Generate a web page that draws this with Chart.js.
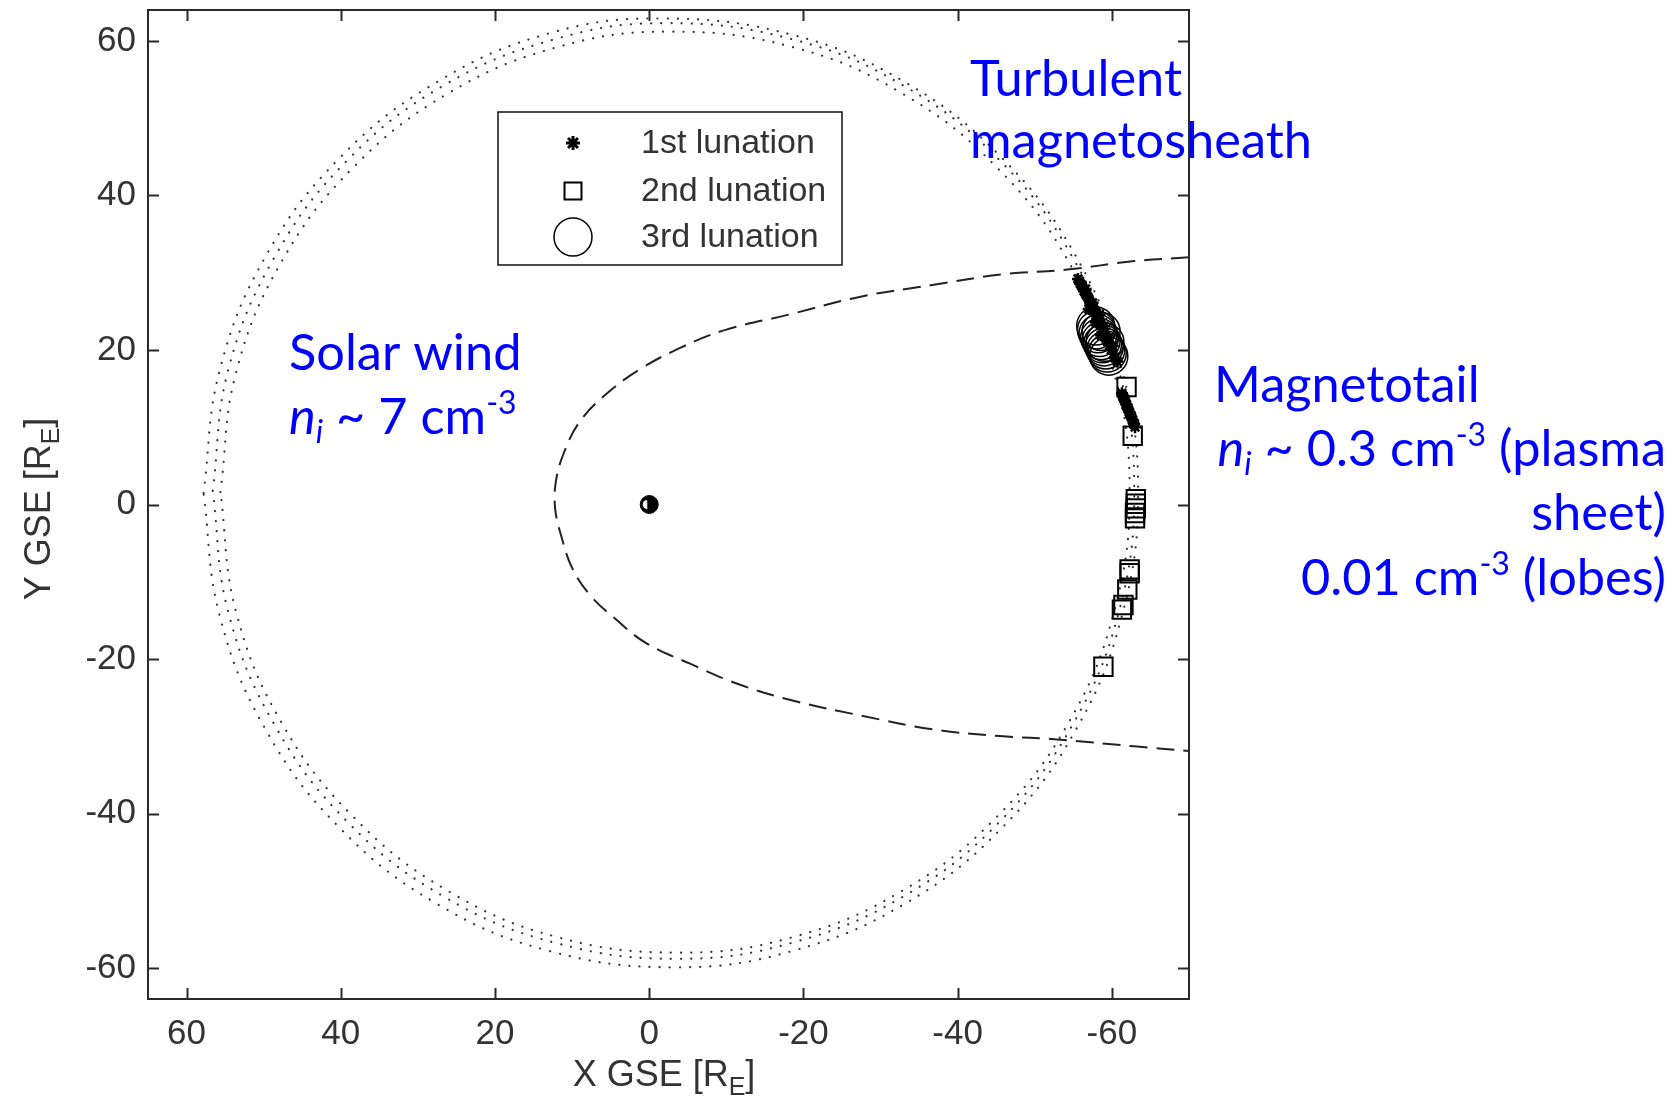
<!DOCTYPE html>
<html><head><meta charset="utf-8">
<script src="https://cdn.jsdelivr.net/npm/chart.js@4.4.1/dist/chart.umd.min.js"></script>
<style>html,body{margin:0;padding:0;background:#fff;overflow:hidden}#wrap{width:1680px;height:1105px;position:relative}</style>
</head><body><div id="wrap"><canvas id="c" width="1680" height="1105"></canvas></div>
<script>
// ---- axis ticks ----
const xTicks = [60, 40, 20, 0, -20, -40, -60];
const yTicks = [60, 40, 20, 0, -20, -40, -60];

// ---- Moon orbit traces (three lunations, dotted) ----
const orbitA = [
  {x:57.8,y:1.5},{x:55.7,y:17.4},{x:49.7,y:32.2},{x:40.1,y:44.9},{x:27.5,y:54.7},{x:12.9,y:61.0},
  {x:-1.5,y:62.9},{x:-18.5,y:60.8},{x:-33.1,y:54.7},{x:-45.7,y:44.9},{x:-55.3,y:32.2},{x:-61.3,y:17.4},
  {x:-63.4,y:1.5},{x:-61.3,y:-14.4},{x:-55.3,y:-29.2},{x:-45.7,y:-41.9},{x:-33.1,y:-51.7},{x:-18.5,y:-57.8},
  {x:-3.5,y:-59.9},{x:12.9,y:-57.8},{x:27.5,y:-51.7},{x:40.1,y:-41.9},{x:49.7,y:-29.2},{x:55.7,y:-14.4},{x:57.8,y:1.5}
];
const orbitB = [
  {x:56.6,y:1.8},{x:54.6,y:17.4},{x:48.6,y:32.0},{x:39.1,y:44.6},{x:26.7,y:54.2},{x:12.3,y:60.2},
  {x:-2.0,y:62.3},{x:-18.6,y:60.2},{x:-33.0,y:54.2},{x:-45.4,y:44.6},{x:-54.9,y:32.0},{x:-60.9,y:17.4},
  {x:-62.9,y:1.8},{x:-60.9,y:-13.9},{x:-54.9,y:-28.5},{x:-45.4,y:-41.1},{x:-33.0,y:-50.7},{x:-18.6,y:-56.7},
  {x:-3.8,y:-58.8},{x:12.3,y:-56.7},{x:26.7,y:-50.7},{x:39.1,y:-41.1},{x:48.6,y:-28.5},{x:54.6,y:-13.9},{x:56.6,y:1.8}
];
const orbitC = [
  {x:55.6,y:1.6},{x:53.6,y:17.0},{x:47.7,y:31.4},{x:38.3,y:43.7},{x:26.1,y:53.2},{x:11.9,y:59.2},
  {x:-2.5,y:61.2},{x:-18.6,y:59.2},{x:-32.8,y:53.2},{x:-45.0,y:43.7},{x:-54.4,y:31.4},{x:-60.3,y:17.0},
  {x:-62.3,y:1.6},{x:-60.3,y:-13.8},{x:-54.4,y:-28.2},{x:-45.0,y:-40.5},{x:-32.8,y:-50.0},{x:-18.6,y:-56.0},
  {x:-4.0,y:-58.0},{x:11.9,y:-56.0},{x:26.1,y:-50.0},{x:38.3,y:-40.5},{x:47.7,y:-28.2},{x:53.6,y:-13.8},{x:55.6,y:1.6}
];

// ---- magnetopause / magnetosheath boundary (dashed) ----
const boundary = [
  {x:-70,y:32.0},{x:-62.9,y:31.5},{x:-54.2,y:30.4},{x:-45.9,y:29.8},{x:-36.7,y:28.4},{x:-27.4,y:26.9},
  {x:-18.2,y:24.6},{x:-9.9,y:22.6},{x:-4.3,y:20.4},{x:1.2,y:17.5},{x:5.8,y:14.1},{x:9.1,y:10.6},
  {x:11.1,y:6.6},{x:12.1,y:3.0},{x:12.2,y:-0.5},{x:11.4,y:-4.1},{x:10.0,y:-8.2},{x:7.7,y:-11.7},
  {x:4.4,y:-14.8},{x:0.3,y:-18.0},{x:-5.3,y:-20.6},{x:-11.7,y:-23.3},{x:-19.1,y:-25.5},{x:-27.4,y:-27.3},
  {x:-36.7,y:-29.1},{x:-45.9,y:-30.0},{x:-52.9,y:-30.4},{x:-62.9,y:-31.3},{x:-70,y:-31.9}
];

// ---- Earth ----
const earth = [{x:0,y:0}];

// ---- 1st lunation (asterisks) ----
const lun1 = [
  {x:-55.6,y:29.2},{x:-55.8,y:28.9},{x:-55.9,y:28.6},{x:-56.1,y:28.3},{x:-56.2,y:28.1},{x:-56.4,y:27.6},
  {x:-56.6,y:27.3},{x:-56.7,y:27.1},{x:-56.9,y:26.8},{x:-57.0,y:26.6},{x:-57.2,y:26.0},{x:-57.4,y:25.8},
  {x:-57.5,y:25.5},{x:-57.7,y:25.2},{x:-57.8,y:25.0},{x:-58.0,y:24.4},{x:-58.2,y:24.1},{x:-58.3,y:23.9},
  {x:-58.5,y:23.3},{x:-58.7,y:22.8},{x:-59.0,y:22.2},{x:-59.2,y:21.7},{x:-59.4,y:21.1},{x:-59.7,y:20.6},
  {x:-59.9,y:20.0},{x:-60.2,y:19.5},{x:-60.4,y:19.0},{x:-60.7,y:18.5},{x:-56.6,y:27.9},{x:-57.5,y:26.1},
  {x:-58.4,y:24.6},{x:-59.0,y:23.1},{x:-59.6,y:21.6},{x:-60.1,y:20.5},{x:-57.0,y:25.3},{x:-57.9,y:23.6},
  {x:-58.6,y:21.9},
  {x:-61.3,y:14.4},{x:-61.4,y:14.1},{x:-61.5,y:13.9},{x:-61.6,y:13.6},{x:-61.7,y:13.4},{x:-61.9,y:12.9},
  {x:-62.0,y:12.6},{x:-62.1,y:12.4},{x:-62.3,y:11.9},{x:-62.4,y:11.6},{x:-62.5,y:11.4},{x:-62.7,y:10.9},
  {x:-62.8,y:10.6},{x:-62.9,y:10.4},{x:-63.0,y:10.0}
];
// ---- 2nd lunation (squares) ----
const lun2 = [
  {x:-61.9,y:15.2},{x:-62.7,y:8.9},
  {x:-63.1,y:0.7},{x:-63.1,y:0.1},{x:-63.1,y:-0.5},{x:-63.0,y:-1.1},{x:-63.0,y:-1.8},
  {x:-62.3,y:-8.4},{x:-62.3,y:-8.9},{x:-62.0,y:-11.0},{x:-61.5,y:-13.0},{x:-61.3,y:-13.6},
  {x:-58.9,y:-21.0}
];
// ---- 3rd lunation (circles) ----
const lun3 = [
  {x:-57.9,y:23.1},{x:-58.0,y:22.6},{x:-58.2,y:22.1},{x:-58.4,y:21.6},{x:-58.6,y:21.2},{x:-58.8,y:20.8},
  {x:-59.0,y:20.4},{x:-59.2,y:20.0},{x:-59.4,y:19.6},{x:-59.6,y:19.2},{x:-58.6,y:22.4},{x:-59.1,y:21.0}
];

const legendLabels = ['1st lunation', '2nd lunation', '3rd lunation'];

const AX = '#2a2a2a';
const TICKFONT = {family:'"Liberation Sans", Arial, sans-serif', size:35};
const BLUE = '#0000ff';
const ANNO_FAMILY = 'Lato, "Open Sans", sans-serif';

const markerStyles = [
  {pointStyle:'star', radius:7, borderWidth:3, borderColor:'#000', backgroundColor:'#000'},
  {pointStyle:'rect', radius:12, borderWidth:2, borderColor:'#000', backgroundColor:'rgba(0,0,0,0)'},
  {pointStyle:'circle', radius:19, borderWidth:1.5, borderColor:'#000', backgroundColor:'rgba(0,0,0,0)'}
];

function drawRich(ctx, x, y, parts, align) {
  const fontOf = p => (p.italic ? 'italic ' : '') + (p.size) + 'px ' + ANNO_FAMILY;
  const widths = parts.map(p => { ctx.font = fontOf(p); return ctx.measureText(p.text).width; });
  const total = widths.reduce((a, b) => a + b, 0);
  let cx = align === 'right' ? x - total : x;
  parts.forEach((p, i) => { ctx.font = fontOf(p); ctx.fillText(p.text, cx, y + (p.dy || 0)); cx += widths[i]; });
}

const framePlugin = {
  id: 'frame',
  afterDatasetsDraw(chart) {
    const ctx = chart.ctx, a = chart.chartArea;
    const xs = chart.scales.x, ys = chart.scales.y;
    ctx.save();
    // Earth highlight (white half disc on sunward side)
    const em = chart.getDatasetMeta(3);
    if (em && em.data[0]) {
      const p = em.data[0];
      ctx.fillStyle = '#fff';
      ctx.beginPath();
      ctx.arc(p.x - 2, p.y, 4.5, Math.PI / 2, Math.PI * 1.5);
      ctx.closePath();
      ctx.fill();
    }
    // box
    ctx.strokeStyle = AX; ctx.lineWidth = 2;
    ctx.strokeRect(a.left, a.top, a.right - a.left, a.bottom - a.top);
    // inward ticks on all sides
    const TL = 11;
    ctx.beginPath();
    xTicks.forEach(v => {
      const px = Math.round(xs.getPixelForValue(v)) + 0.5;
      ctx.moveTo(px, a.bottom); ctx.lineTo(px, a.bottom - TL);
      ctx.moveTo(px, a.top); ctx.lineTo(px, a.top + TL);
    });
    yTicks.forEach(v => {
      const py = Math.round(ys.getPixelForValue(v)) + 0.5;
      ctx.moveTo(a.left, py); ctx.lineTo(a.left + TL, py);
      ctx.moveTo(a.right, py); ctx.lineTo(a.right - TL, py);
    });
    ctx.stroke();

    // legend box
    const lx = 498, ly = 112, lw = 344, lh = 153;
    ctx.fillStyle = '#fff';
    ctx.fillRect(lx, ly, lw, lh);
    ctx.strokeStyle = '#111'; ctx.lineWidth = 1.5;
    ctx.strokeRect(lx, ly, lw, lh);
    const rows = [143, 191, 237];
    legendLabels.forEach((t, i) => {
      const st = markerStyles[i];
      ctx.save();
      ctx.strokeStyle = st.borderColor; ctx.fillStyle = st.backgroundColor; ctx.lineWidth = st.borderWidth;
      Chart.helpers.drawPoint(ctx, {pointStyle: st.pointStyle, radius: st.radius, borderWidth: st.borderWidth, rotation: 0}, 573, rows[i]);
      ctx.restore();
      ctx.fillStyle = '#333';
      ctx.font = '34px "Liberation Sans", Arial, sans-serif';
      ctx.textBaseline = 'middle';
      ctx.textAlign = 'left';
      ctx.fillText(t, 641, rows[i] + 1);
    });

    // axis titles
    ctx.fillStyle = '#333';
    ctx.textBaseline = 'alphabetic';
    ctx.textAlign = 'left';
    const tf = '36px "Liberation Sans", Arial, sans-serif';
    const sf = '25px "Liberation Sans", Arial, sans-serif';
    ctx.font = tf; const w1 = ctx.measureText('X GSE [R').width;
    ctx.font = sf; const w2 = ctx.measureText('E').width;
    ctx.font = tf; const w3 = ctx.measureText(']').width;
    let sx = 664 - (w1 + w2 + w3) / 2, by = 1086;
    ctx.font = tf; ctx.fillText('X GSE [R', sx, by);
    ctx.font = sf; ctx.fillText('E', sx + w1, by + 9);
    ctx.font = tf; ctx.fillText(']', sx + w1 + w2, by);
    ctx.save();
    ctx.translate(50, 509);
    ctx.rotate(-Math.PI / 2);
    sx = -(w1 + w2 + w3) / 2;
    ctx.font = tf; ctx.fillText('Y GSE [R', sx, 0);
    ctx.font = sf; ctx.fillText('E', sx + w1, 9);
    ctx.font = tf; ctx.fillText(']', sx + w1 + w2, 0);
    ctx.restore();

    // annotations
    ctx.fillStyle = BLUE;
    ctx.textBaseline = 'alphabetic';
    const S = 50.5, sub = 32;
    drawRich(ctx, 970, 96, [{text:'Turbulent', size:S}], 'left');
    drawRich(ctx, 970, 158, [{text:'magnetosheath', size:S}], 'left');
    drawRich(ctx, 289, 370, [{text:'Solar wind', size:S}], 'left');
    drawRich(ctx, 289, 434, [
      {text:'n', size:S, italic:true}, {text:'i', size:sub, italic:true, dy:9},
      {text:' ~ 7 cm', size:S}, {text:'-3', size:sub, dy:-20}], 'left');
    drawRich(ctx, 1214, 402, [{text:'Magnetotail', size:S}], 'left');
    drawRich(ctx, 1666, 466, [
      {text:'n', size:S, italic:true}, {text:'i', size:sub, italic:true, dy:9},
      {text:' ~ 0.3 cm', size:S}, {text:'-3', size:sub, dy:-20}, {text:' (plasma', size:S}], 'right');
    drawRich(ctx, 1666, 530, [{text:'sheet)', size:S}], 'right');
    drawRich(ctx, 1666, 595, [
      {text:'0.01 cm', size:S}, {text:'-3', size:sub, dy:-20}, {text:' (lobes)', size:S}], 'right');
    ctx.restore();
  }
};

const orbitStyle = {showLine:true, pointRadius:0, borderColor:'#333', borderWidth:2.2,
  borderDash:[0.1, 10], borderCapStyle:'round', tension:0.4, fill:false, order:10};

new Chart(document.getElementById('c'), {
  type: 'scatter',
  data: {
    datasets: [
      Object.assign({label:'orbit A', data: orbitA}, orbitStyle),
      Object.assign({label:'orbit B', data: orbitB}, orbitStyle),
      Object.assign({label:'orbit C', data: orbitC}, orbitStyle),
      {label:'Earth', data: earth, pointStyle:'circle', pointRadius:9, pointBackgroundColor:'#000',
        pointBorderColor:'#000', pointBorderWidth:1, order:1},
      {label:'boundary', data: boundary, showLine:true, pointRadius:0, borderColor:'#222', borderWidth:2,
        borderDash:[18, 9], tension:0.4, fill:false, order:9},
      {label: legendLabels[0], data: lun1, pointStyle:'star', pointRadius:6, pointBorderWidth:2.5,
        pointBorderColor:'#000', pointBackgroundColor:'#000', order:4},
      {label: legendLabels[1], data: lun2, pointStyle:'rect', pointRadius:13, pointBorderWidth:2,
        pointBorderColor:'#000', pointBackgroundColor:'rgba(0,0,0,0)', order:3},
      {label: legendLabels[2], data: lun3, pointStyle:'circle', pointRadius:19, pointBorderWidth:1.5,
        pointBorderColor:'#000', pointBackgroundColor:'rgba(0,0,0,0)', order:2}
    ]
  },
  options: {
    responsive: false,
    animation: false,
    devicePixelRatio: 1,
    layout: {autoPadding:false, padding: {left:0, top:10, right:491, bottom:0}},
    plugins: {legend:{display:false}, tooltip:{enabled:false}},
    elements: {line: {borderJoinStyle:'round'}},
    scales: {
      x: {
        type:'linear', min:-70, max:65, reverse:true,
        afterBuildTicks: s => { s.ticks = xTicks.map(v => ({value: v})); },
        afterFit: s => { s.height = 106; s.paddingLeft = 0; s.paddingRight = 0; },
        grid: {display:false, drawTicks:false},
        border: {display:false},
        ticks: {font: TICKFONT, color:'#333', padding:14, maxRotation:0, autoSkip:false}
      },
      y: {
        type:'linear', min:-64, max:64,
        afterBuildTicks: s => { s.ticks = yTicks.map(v => ({value: v})); },
        afterFit: s => { s.width = 148; s.paddingTop = 0; s.paddingBottom = 0; },
        grid: {display:false, drawTicks:false},
        border: {display:false},
        ticks: {font: TICKFONT, color:'#333', padding:12, autoSkip:false}
      }
    }
  },
  plugins: [framePlugin]
});
</script>
</body></html>
